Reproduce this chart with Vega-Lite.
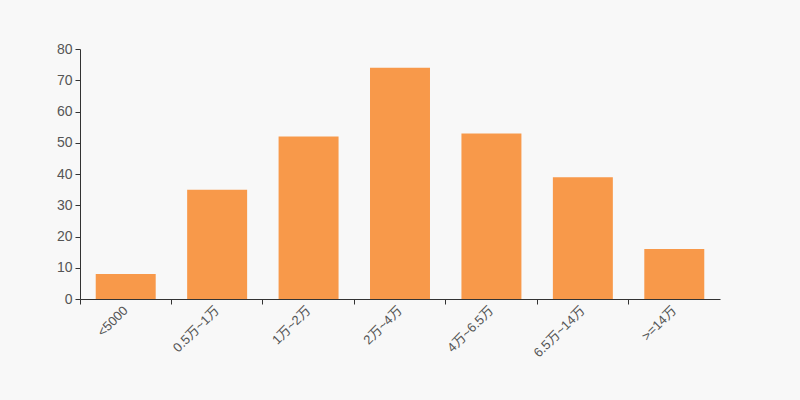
{
  "$schema": "https://vega.github.io/schema/vega-lite/v6.json",
  "autosize": "none",
  "width": 640,
  "height": 250,
  "padding": {"left": 80, "top": 49, "right": 80, "bottom": 101},
  "background": "#f8f8f8",
  "config": {
    "view": {"stroke": null},
    "font": "Liberation Sans, Noto Sans CJK SC, sans-serif"
  },
  "data": {
    "values": [
      {"range": "<5000", "count": 8},
      {"range": "0.5万~1万", "count": 35},
      {"range": "1万~2万", "count": 52},
      {"range": "2万~4万", "count": 74},
      {"range": "4万~6.5万", "count": 53},
      {"range": "6.5万~14万", "count": 39},
      {"range": ">=14万", "count": 16}
    ]
  },
  "mark": {"type": "bar", "color": "#f8994a", "width": {"band": 0.656}},
  "encoding": {
    "x": {
      "field": "range",
      "type": "nominal",
      "sort": null,
      "scale": {"paddingInner": 0, "paddingOuter": 0},
      "axis": {
        "title": null,
        "bandPosition": 0,
        "labelAngle": -45,
        "labelAlign": "right",
        "labelBaseline": "middle",
        "labelPadding": 4,
        "labelFontSize": 13,
        "labelColor": "#555",
        "domainColor": "#333",
        "tickColor": "#333",
        "tickSize": 5,
        "grid": false
      }
    },
    "y": {
      "field": "count",
      "type": "quantitative",
      "scale": {"domain": [0, 80], "nice": false},
      "axis": {
        "title": null,
        "values": [0, 10, 20, 30, 40, 50, 60, 70, 80],
        "labelFontSize": 14,
        "labelColor": "#555",
        "labelPadding": 3,
        "domainColor": "#333",
        "tickColor": "#333",
        "tickSize": 5,
        "grid": false
      }
    }
  }
}
